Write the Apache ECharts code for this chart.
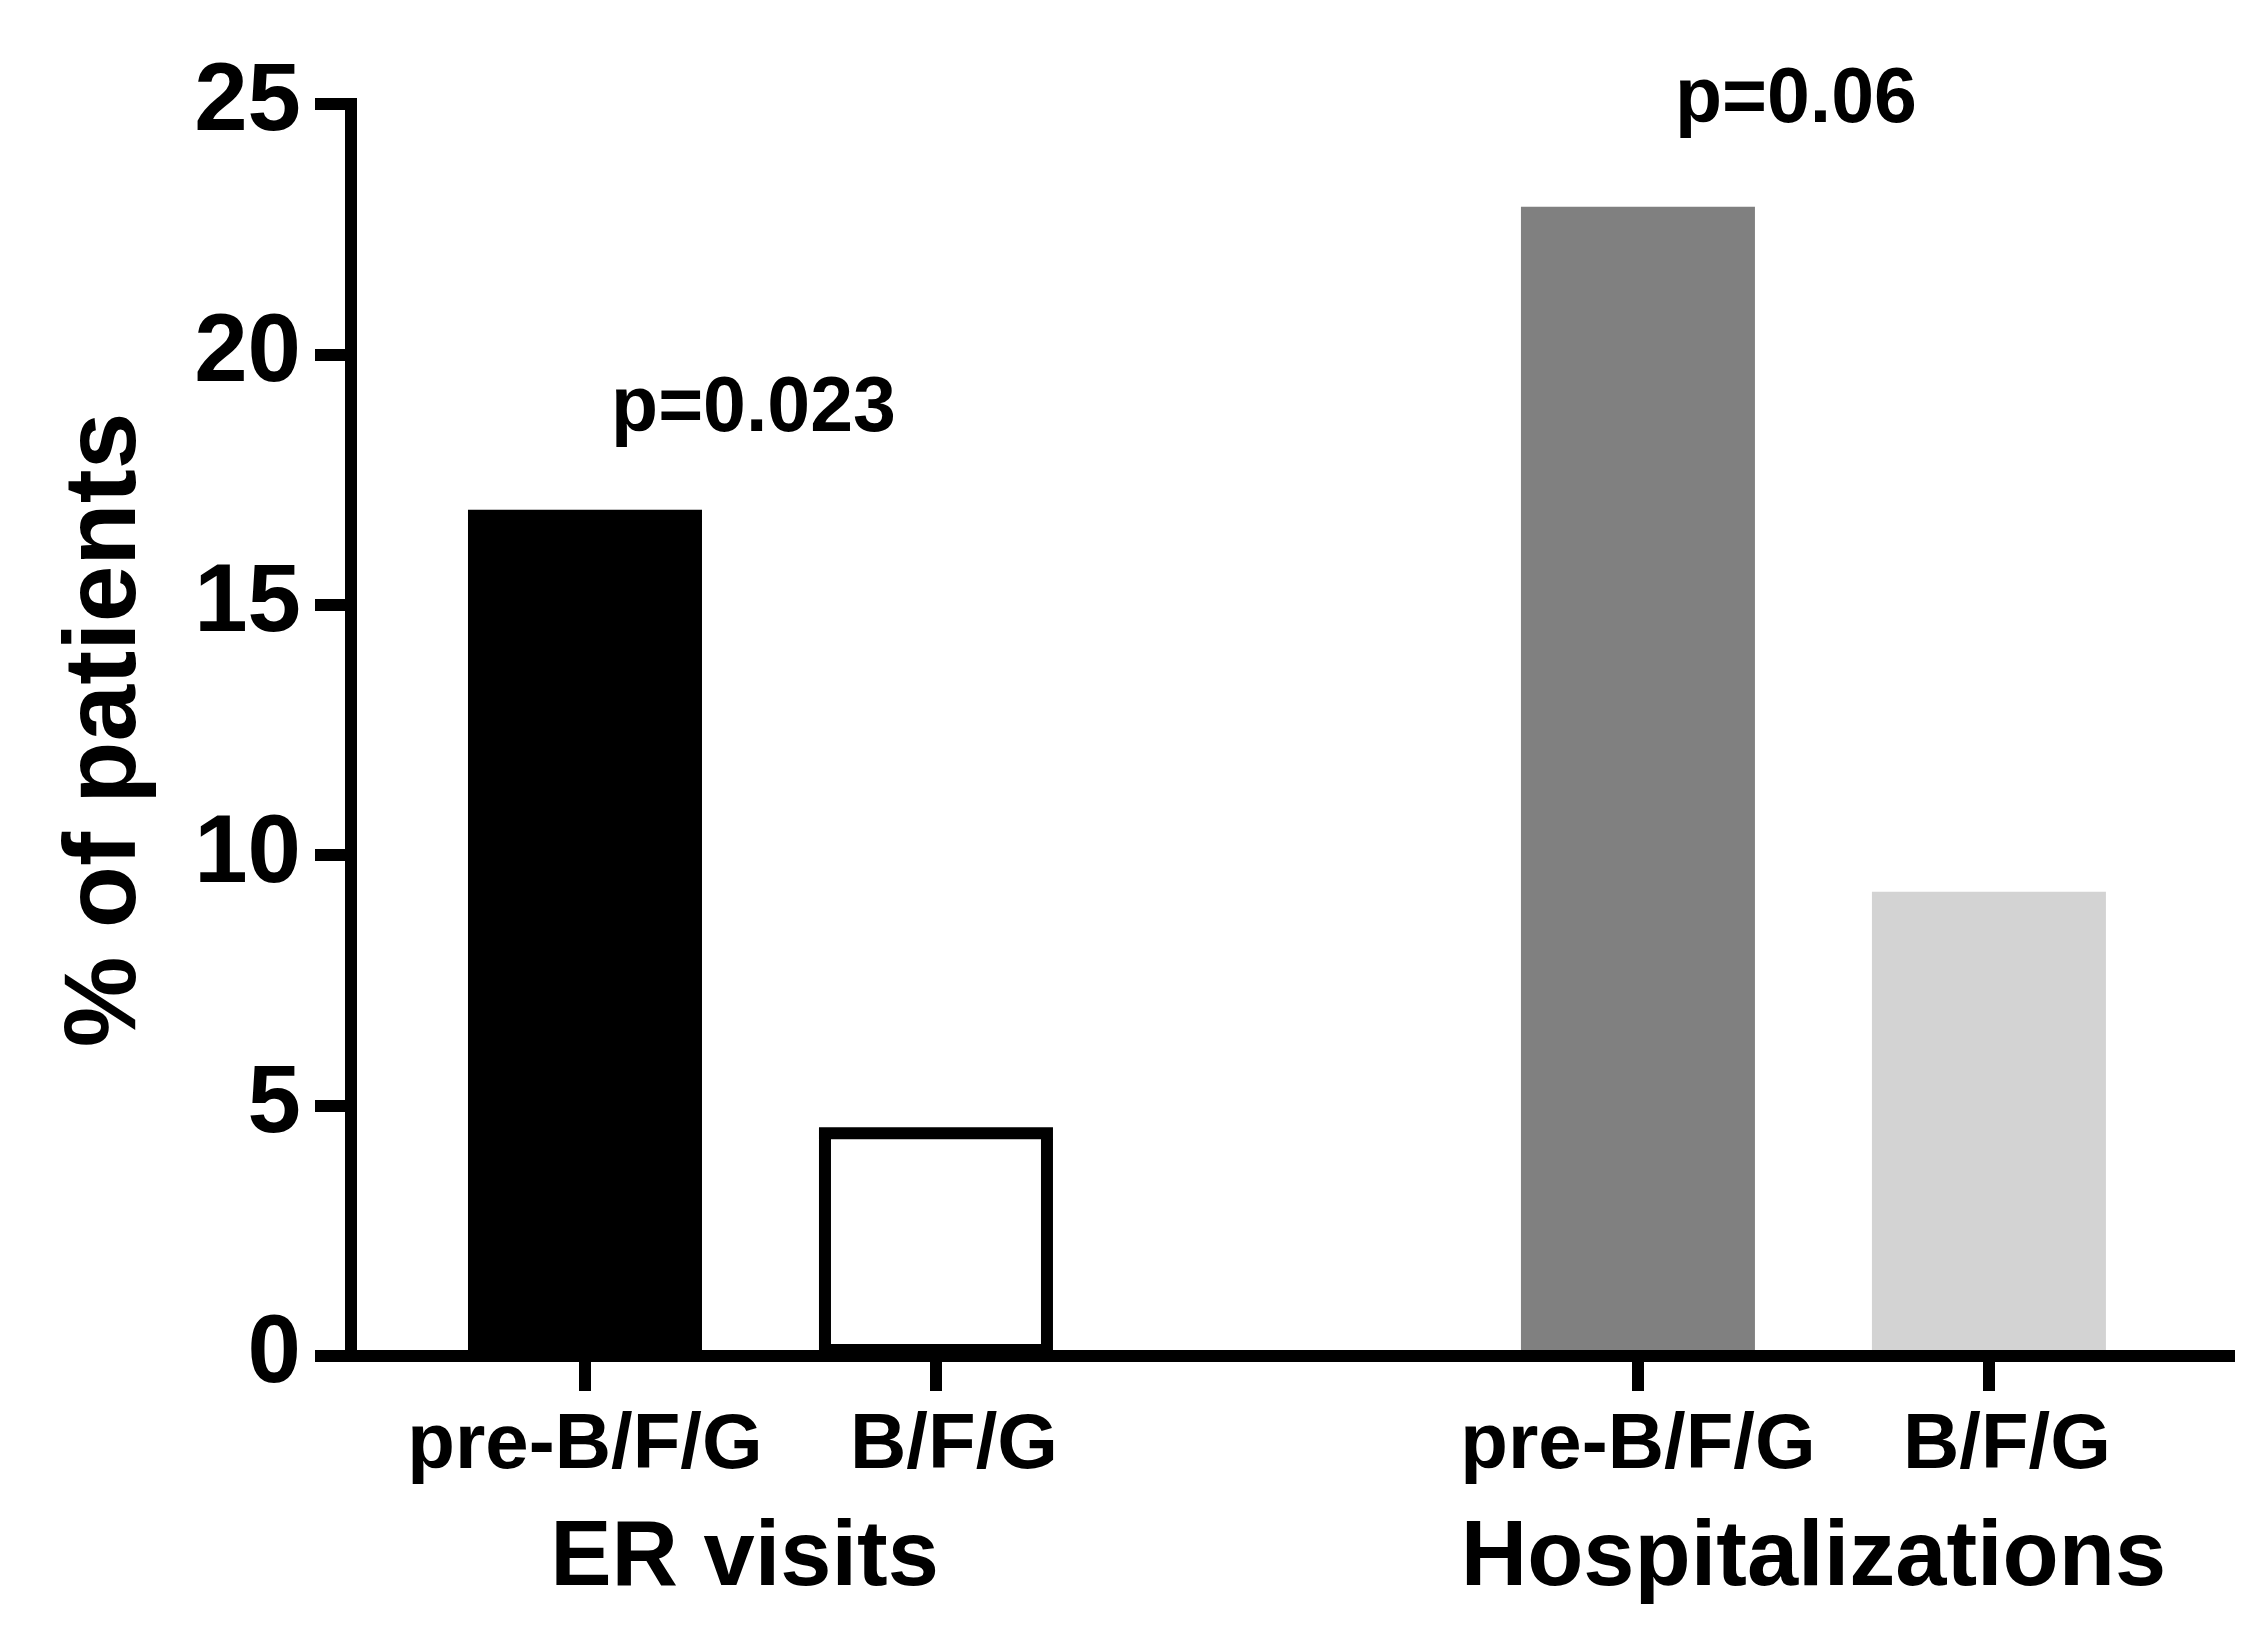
<!DOCTYPE html>
<html>
<head>
<meta charset="utf-8">
<script src="https://cdn.jsdelivr.net/npm/echarts@6/dist/echarts.min.js"></script>
<style>
html,body{margin:0;padding:0;background:#fff;}
#chart{width:2264px;height:1642px;}
</style>
</head>
<body>
<div id="chart"></div>
<script>
// ---- data ----
const categories = ['pre-B/F/G', 'B/F/G'];
const groups = ['ER visits', 'Hospitalizations'];
const erVisits = [16.9, 4.57];
const hospitalizations = [22.95, 9.27];
const pValues = ['p=0.023', 'p=0.06'];
const yTicks = [0, 5, 10, 15, 20, 25];

// ---- font check for the narrow annotation font ----
function fontAvailable(name) {
  const c = document.createElement('canvas').getContext('2d');
  c.font = 'bold 80px monospace';
  const a = c.measureText('p=0.023 abcXYZ').width;
  c.font = 'bold 80px "' + name + '", monospace';
  const b = c.measureText('p=0.023 abcXYZ').width;
  return a !== b;
}
const narrowOK = fontAvailable('Liberation Sans Narrow');
const pFont = narrowOK ? 'Liberation Sans Narrow' : 'Liberation Sans';
const pSize = narrowOK ? 94 : 77;

const FONT = 'Liberation Sans, Arial, sans-serif';
const seriesValues = [erVisits, hospitalizations];
const fillColors = [['#000000', '#ffffff'], ['#808080', '#d3d3d3']];
const borderColors = [['#000000', '#000000'], ['#808080', '#d3d3d3']];
const slot = (g, c) => g * (categories.length + 1) + c + 1;

const barData = [];
const tickPos = [];
seriesValues.forEach((vals, g) => {
  vals.forEach((v, c) => {
    tickPos.push(slot(g, c));
    barData.push({
      value: [slot(g, c), v],
      itemStyle: { color: fillColors[g][c], borderColor: borderColors[g][c], borderWidth: 12 }
    });
  });
});
const groupPos = groups.map((_, g) => (slot(g, 0) + slot(g, categories.length - 1)) / 2);

// annotation layout (positions of the p-value texts)
const pLayout = [[1.48, 18.9], [4.45, 25.07]];
const pData = pValues.map((t, i) => ({ value: pLayout[i], label: { formatter: t } }));

const catStyle = { color: '#000', fontSize: 78, fontWeight: 'bold', fontFamily: FONT };
const grpStyle = { color: '#000', fontSize: 92, fontWeight: 'bold', fontFamily: FONT };

const chart = echarts.init(document.getElementById('chart'), null, { renderer: 'canvas' });
chart.setOption({
  animation: false,
  backgroundColor: '#ffffff',
  grid: { left: 351, right: 35, top: 104, bottom: 286, containLabel: false },
  xAxis: [
    {
      type: 'value', min: 1 / 3, max: 5.684, position: 'bottom', z: 5,
      axisLine: { show: true, onZero: false, lineStyle: { color: '#000', width: 12, cap: 'square' } },
      axisTick: { show: true, customValues: tickPos, length: 35, inside: false, lineStyle: { color: '#000', width: 12 } },
      axisLabel: {
        show: true, customValues: tickPos, margin: 51,
        formatter: v => {
          const c = (Math.round(v) - 1) % (categories.length + 1);
          return '{c' + c + '|' + categories[c] + '}';
        },
        rich: {
          c0: Object.assign({}, catStyle),
          c1: Object.assign({ padding: [0, 0, 0, 36] }, catStyle)
        },
        ...catStyle
      },
      splitLine: { show: false }
    },
    {
      type: 'value', min: 1 / 3, max: 5.684, position: 'bottom', z: 5,
      axisLine: { show: false }, axisTick: { show: false }, splitLine: { show: false },
      axisLabel: {
        show: true, customValues: groupPos, margin: 158,
        formatter: v => {
          const g = groupPos.indexOf(v);
          return '{g' + g + '|' + groups[g] + '}';
        },
        rich: {
          g0: Object.assign({ padding: [0, 32, 0, 0] }, grpStyle),
          g1: Object.assign({}, grpStyle)
        },
        ...grpStyle
      }
    }
  ],
  yAxis: {
    type: 'value', min: 0, max: 25, interval: 5, z: 5,
    name: '% of patients', nameLocation: 'middle', nameGap: 193,
    nameTextStyle: { color: '#000', fontSize: 102, fontWeight: 'bold', fontFamily: FONT },
    axisLine: { show: true, lineStyle: { color: '#000', width: 12, cap: 'square' } },
    axisTick: { show: true, length: 36, lineStyle: { color: '#000', width: 12 } },
    axisLabel: { show: true, margin: 50, color: '#000', fontSize: 96, fontWeight: 'bold', fontFamily: FONT,
      customValues: yTicks },
    splitLine: { show: false }
  },
  series: [
    {
      type: 'bar', xAxisIndex: 0, data: barData, barWidth: 234, z: 2
    },
    {
      type: 'scatter', xAxisIndex: 0, data: pData, symbolSize: 0, clip: false, silent: true,
      itemStyle: { color: '#000000', opacity: 1 },
      label: { show: true, position: 'inside', color: '#000000', textBorderWidth: 0, opacity: 1,
        fontSize: pSize, fontWeight: 'bold', fontFamily: pFont }
    }
  ]
});
</script>
</body>
</html>
